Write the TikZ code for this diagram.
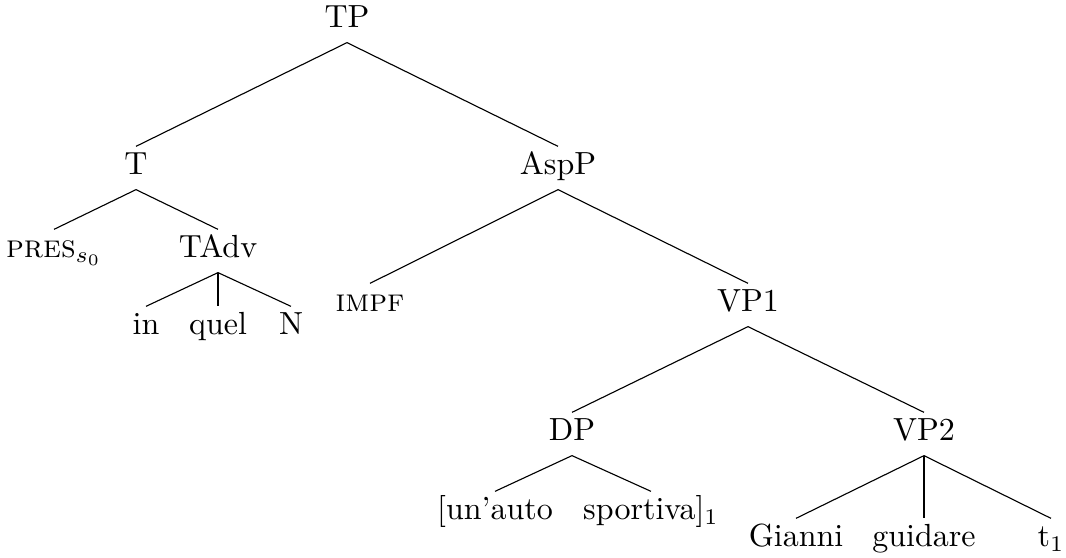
\documentclass[tikz,border=0pt]{standalone}
\begin{document}
\begin{tikzpicture}[x=0.3125pt,y=-0.3125pt,
  lab/.style={anchor=base,inner sep=0pt,text height=8.75pt,text depth=4.375pt,font=\fontsize{10}{12}\selectfont},
  edge/.style={line width=0.35pt}]
\useasboundingbox (0,0) rectangle (1066,558);
\node[lab] (tp) at (347,28) {TP};
\node[lab] (t) at (136,175) {T};
\node[lab] (asp) at (558,175) {AspP};
\node[lab] (pres) at (54,258) {\textsc{pres}$_{s_0}$};
\node[lab] (tadv) at (218,258) {TAdv};
\node[lab] (in) at (146,335) {in};
\node[lab] (quel) at (218,335) {quel};
\node[lab] (n) at (291,335) {N};
\node[lab] (impf) at (370,312) {\textsc{impf}};
\node[lab] (vp1) at (748,312) {VP1};
\node[lab] (dp) at (572,441) {DP};
\node[lab] (vp2) at (924,441) {VP2};
\node[lab] (un) at (495,520) {[un'auto};
\node[lab] (sport) at (651,520) {sportiva]$_1$};
\node[lab] (gianni) at (796,547) {Gianni};
\node[lab] (guid) at (924,547) {guidare};
\node[lab] (t1) at (1051,547) {t$_1$};
\draw[edge] (tp.south) -- (t.north);
\draw[edge] (tp.south) -- (asp.north);
\draw[edge] (t.south) -- (pres.north);
\draw[edge] (t.south) -- (tadv.north);
\draw[edge] (tadv.south) -- (in.north);
\draw[edge] (tadv.south) -- (quel.north);
\draw[edge] (tadv.south) -- (n.north);
\draw[edge] (asp.south) -- (impf.north);
\draw[edge] (asp.south) -- (vp1.north);
\draw[edge] (vp1.south) -- (dp.north);
\draw[edge] (vp1.south) -- (vp2.north);
\draw[edge] (dp.south) -- (un.north);
\draw[edge] (dp.south) -- (sport.north);
\draw[edge] (vp2.south) -- (gianni.north);
\draw[edge] (vp2.south) -- (guid.north);
\draw[edge] (vp2.south) -- (t1.north);
\end{tikzpicture}
\end{document}
